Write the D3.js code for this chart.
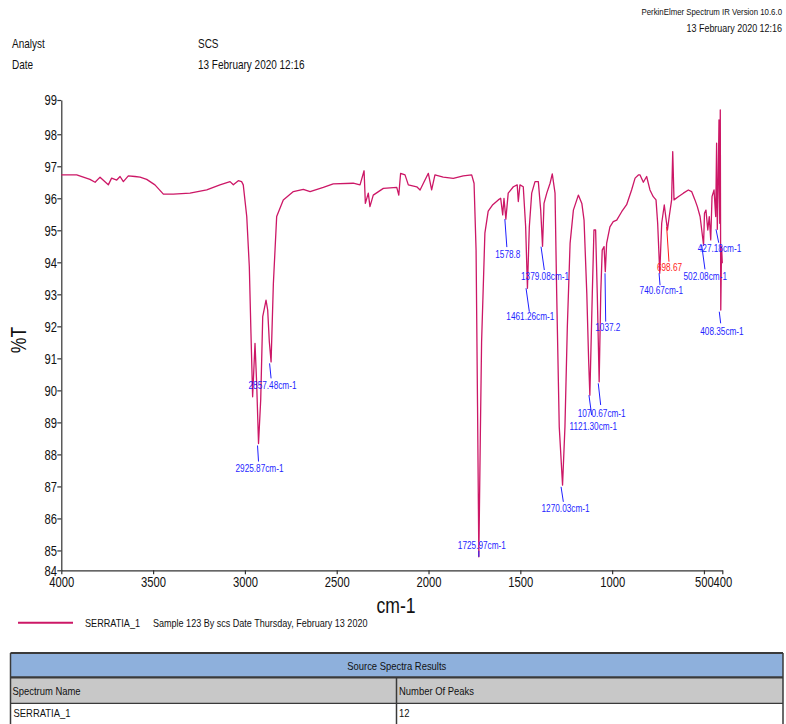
<!DOCTYPE html>
<html lang="en">
<head>
<meta charset="utf-8">
<title>IR spectrum SERRATIA_1</title>
<script src="https://cdn.jsdelivr.net/npm/d3@7"></script>
<style>
  body { margin: 0; background: #fff; }
  svg text { font-family: "Liberation Sans", Arial, sans-serif; fill: #111; }
  .axis path, .axis line { stroke: #333; stroke-width: 1.2; }
  .axis text { font-size: 15px; }
</style>
</head>
<body>
<div id="chart"></div>
<script>
  // spectrum (wavenumber cm-1, %T)
  const wavenumbers = [4000, 3916, 3880, 3844, 3816, 3789, 3744, 3726, 3698, 3680, 3662, 3635, 3599, 3571, 3535, 3490, 3444, 3390, 3299, 3208,
    3136, 3081, 3063, 3036, 3018, 3009, 2990, 2976, 2967, 2958, 2945, 2936, 2925.87, 2914, 2903, 2885, 2876, 2867, 2857.48, 2845,
    2827, 2791, 2736, 2682, 2645, 2573, 2519, 2410, 2373, 2351, 2344, 2328, 2319, 2301, 2246, 2173, 2162, 2152, 2128, 2110,
    2064, 2046, 2028, 2001, 1983, 1965, 1920, 1865, 1811, 1765, 1752, 1741, 1733, 1725.97, 1718, 1711, 1693, 1675, 1650, 1620,
    1607, 1596, 1589, 1578.8, 1566, 1538, 1517, 1511, 1502, 1484, 1471, 1461.26, 1451, 1438, 1420, 1402, 1389, 1379.08, 1371, 1356,
    1338, 1326, 1311, 1302, 1288, 1270.03, 1257, 1244, 1229, 1211, 1184, 1165, 1153, 1138, 1128, 1121.30, 1108, 1099, 1090, 1081,
    1070.67, 1062, 1054, 1044, 1037.2, 1030, 1012, 994, 975, 948, 921, 894, 875, 857, 848, 830, 812, 794, 776, 761,
    752, 740.67, 730, 716, 698.67, 689, 676, 670, 663, 640, 612, 585, 567, 549, 536, 521, 502.08, 497, 489, 479,
    471, 463, 456, 445, 436, 431, 427.18, 423, 418, 414, 411, 408.35, 404, 400];
  const transmittance = [96.73, 96.73, 96.66, 96.59, 96.50, 96.66, 96.42, 96.63, 96.57, 96.68, 96.52, 96.70, 96.68, 96.66, 96.59, 96.42, 96.13, 96.13, 96.16, 96.26,
    96.42, 96.52, 96.42, 96.55, 96.52, 96.42, 95.43, 93.86, 91.78, 89.80, 91.47, 90.22, 88.34, 89.70, 92.30, 92.82, 92.51, 91.52, 90.89, 93.34,
    95.43, 95.95, 96.21, 96.28, 96.21, 96.34, 96.45, 96.47, 96.42, 96.86, 95.84, 96.16, 95.74, 96.10, 96.31, 96.34, 96.10, 96.78, 96.73, 96.42,
    96.36, 96.26, 96.47, 96.78, 96.26, 96.73, 96.66, 96.62, 96.70, 96.73, 96.47, 94.38, 89.50, 84.80, 88.50, 91.50, 94.91, 95.60, 95.80, 95.95,
    96.00, 95.48, 96.00, 95.35, 96.16, 96.36, 96.42, 95.90, 96.42, 96.36, 95.11, 93.19, 95.11, 96.16, 96.52, 96.52, 95.63, 94.50, 95.84, 96.16,
    96.47, 96.76, 96.16, 93.03, 88.86, 87.04, 88.86, 91.99, 94.59, 95.63, 96.10, 95.84, 95.32, 93.03, 90.95, 89.85, 93.03, 95.01, 95.01, 93.03,
    90.27, 93.03, 94.38, 94.49, 93.71, 94.59, 95.11, 95.27, 95.32, 95.58, 95.80, 96.26, 96.63, 96.73, 96.73, 96.50, 96.68, 96.26, 96.05, 95.95,
    95.22, 93.66, 95.22, 95.79, 95.01, 95.43, 95.95, 97.46, 95.95, 96.05, 96.16, 96.26, 96.21, 95.95, 95.74, 95.43, 94.54, 95.53, 95.63, 95.01,
    95.43, 94.70, 96.05, 96.26, 95.43, 97.72, 95.03, 96.26, 98.45, 95.22, 98.76, 92.51, 94.50, 93.97];

  // picked peaks
  const peakWn = [2925.87, 2857.48, 1725.97, 1578.8, 1461.26, 1379.08, 1270.03, 1121.30, 1070.67, 1037.2, 740.67, 698.67, 502.08, 427.18, 408.35];
  const peakT = [88.34, 90.89, 84.80, 95.35, 93.19, 94.50, 87.04, 89.85, 90.27, 93.71, 93.66, 95.01, 94.54, 95.03, 92.51];
  const peakText = ['2925.87cm-1', '2857.48cm-1', '1725.97cm-1', '1578.8', '1461.26cm-1', '1379.08cm-1', '1270.03cm-1', '1121.30cm-1',
    '1070.67cm-1', '1037.2', '740.67cm-1', '698.67', '502.08cm-1', '427.18cm-1', '408.35cm-1'];
  const peakIsRed = [0, 0, 0, 0, 0, 0, 0, 0, 0, 0, 0, 1, 0, 0, 0];
  // label layout: [line start dx, dy, line end dx, dy, text dx, dy] relative to the peak
  const peakLayout = [[-1, 2, 0, 18, 1, 25], [-1.5, 1.5, 0, 16.5, 1.4, 23.5], [0, 0, 0, -6, 3, -11], [-1, 0, 1, 28, 2, 35.6],
    [-1.4, 0, 1.9, 23.5, 2.9, 28.5], [-1.5, 0.4, 1.8, 23.7, 2.5, 30.4], [-1.5, 1.7, 0.8, 16.7, 3, 23.3], [-0.9, 0, 1.8, 20, 3.4, 30.9],
    [-0.9, 1.6, 1.5, 23.3, 2.5, 31.6], [-0.3, 1.7, 0.4, 50, 2.5, 55.7], [-0.7, 0, 0.3, 12, 1.6, 16.8], [-0.8, -3, 1.5, 31.7, 2, 37.3],
    [-1.9, 0, 1.4, 24.3, 1.7, 31.7], [-1.3, 0, 1.4, 13.4, 2.2, 19], [-1.5, 1.7, -0.1, 13.3, 1.2, 21.7]];

  const xTicks = [4000, 3500, 3000, 2500, 2000, 1500, 1000, 500, 400];
  const yMin = 84.38, yMax = 99.07;
  const yTicks = [yMin, 85, 86, 87, 88, 89, 90, 91, 92, 93, 94, 95, 96, 97, 98, yMax];

  const tableHead = 'Source Spectra Results';
  const tableCols = ['Spectrum Name', 'Number Of Peaks'];
  const tableRow = ['SERRATIA_1', '12'];

  const width = 786, height = 724;
  const plot = { left: 61.3, right: 722.3, top: 100, bottom: 570.3 };
  const lineColor = '#cc1766';
  const narrow = 0.8; // the report font is a narrow one
  const axisNarrow = 0.75;

  const svg = d3.select('#chart').append('svg').attr('width', width).attr('height', height);

  function addText(parent, str, x, y, size, anchor, fill) {
    return parent.append('text').text(str)
      .attr('transform', `translate(${x},${y}) scale(${narrow},1)`)
      .attr('font-size', size)
      .attr('text-anchor', anchor || 'start')
      .attr('dy', '0.35em')
      .style('fill', fill || '#111');
  }

  // header
  addText(svg, 'PerkinElmer Spectrum IR Version 10.6.0', 782, 12, 9.8, 'end');
  addText(svg, '13 February 2020 12:16', 782, 28, 11.2, 'end');
  addText(svg, 'Analyst', 12, 44, 12.5);
  addText(svg, 'SCS', 198, 44, 12.5);
  addText(svg, 'Date', 12, 65, 12.5);
  addText(svg, '13 February 2020 12:16', 198, 65, 12.5);

  const x = d3.scaleLinear().domain([4000, 400]).range([plot.left, plot.right]);
  const y = d3.scaleLinear().domain([yMin, yMax]).range([plot.bottom, plot.top]);

  svg.append('g').classed('axis', true)
    .attr('transform', `translate(${plot.left},0)`)
    .call(d3.axisLeft(y).tickValues(yTicks).tickFormat(d => Math.floor(d)).tickSize(4).tickSizeOuter(0).tickPadding(0))
    .call(g => g.selectAll('.tick text').attr('transform', `scale(${axisNarrow},1)`).attr('x', -4.3 / axisNarrow));

  svg.append('g').classed('axis', true)
    .attr('transform', `translate(0,${plot.bottom})`)
    .call(d3.axisBottom(x).tickValues(xTicks).tickFormat(d3.format('d')).tickSize(4).tickSizeOuter(0).tickPadding(2))
    .call(g => g.selectAll('.tick text').attr('transform', `scale(${axisNarrow},1)`));

  svg.append('text').text('%T').attr('transform', `translate(26,340) rotate(-90) scale(${narrow},1)`)
    .attr('text-anchor', 'middle').attr('font-size', 22);
  addText(svg, 'cm-1', 396, 605, 22, 'middle');

  // spectrum
  const points = wavenumbers.map((w, i) => [w, transmittance[i]]);
  svg.append('path').datum(points)
    .attr('fill', 'none').attr('stroke', lineColor).attr('stroke-width', 1.3)
    .attr('stroke-linejoin', 'round')
    .attr('d', d3.line().x(d => x(d[0])).y(d => y(d[1])));

  // peak labels
  const peaks = svg.append('g');
  peakWn.forEach((w, i) => {
    const px = x(w), py = y(peakT[i]);
    const L = peakLayout[i];
    const col = peakIsRed[i] ? '#ff1a1a' : '#1f1fff';
    peaks.append('line')
      .attr('x1', px + L[0]).attr('y1', py + L[1]).attr('x2', px + L[2]).attr('y2', py + L[3])
      .attr('stroke', col).attr('stroke-width', 1);
    addText(peaks, peakText[i], px + L[4], py + L[5], 10.3, 'middle', col);
  });

  // legend
  svg.append('line').attr('x1', 18).attr('x2', 73).attr('y1', 622.7).attr('y2', 622.7)
    .attr('stroke', lineColor).attr('stroke-width', 2);
  addText(svg, 'SERRATIA_1', 85, 622.7, 11.4);
  addText(svg, 'Sample 123 By scs Date Thursday, February 13 2020', 153, 622.7, 11.3);

  // results table
  const tbl = svg.append('g');
  const tl = 10.5, tr = 783, colX = 396.5;
  tbl.append('rect').attr('x', tl).attr('y', 653).attr('width', tr - tl).attr('height', 24)
    .attr('fill', '#8eb0dc');
  tbl.append('rect').attr('x', tl).attr('y', 678).attr('width', tr - tl).attr('height', 25)
    .attr('fill', '#c8c8c8');
  tbl.append('rect').attr('x', tl).attr('y', 703).attr('width', tr - tl).attr('height', 25)
    .attr('fill', '#fff');
  [[tl, 653, tr, 653, 2], [tl, 677.3, tr, 677.3, 2.2], [tl, 703.3, tr, 703.3, 1.2],
    [tl, 653, tl, 724, 1.5], [tr, 653, tr, 724, 1.5], [colX, 677, colX, 724, 1.5]].forEach(s => {
    tbl.append('line').attr('x1', s[0]).attr('y1', s[1]).attr('x2', s[2]).attr('y2', s[3])
      .attr('stroke', '#3a3a3a').attr('stroke-width', s[4]);
  });
  addText(tbl, tableHead, (tl + tr) / 2, 666, 11.8, 'middle');
  tableCols.forEach((c, i) => addText(tbl, c, i ? colX + 2.5 : tl + 2, 690.5, 11.8));
  tableRow.forEach((c, i) => addText(tbl, c, i ? colX + 2.5 : tl + 3, 713, 11.8));
</script>
</body>
</html>
